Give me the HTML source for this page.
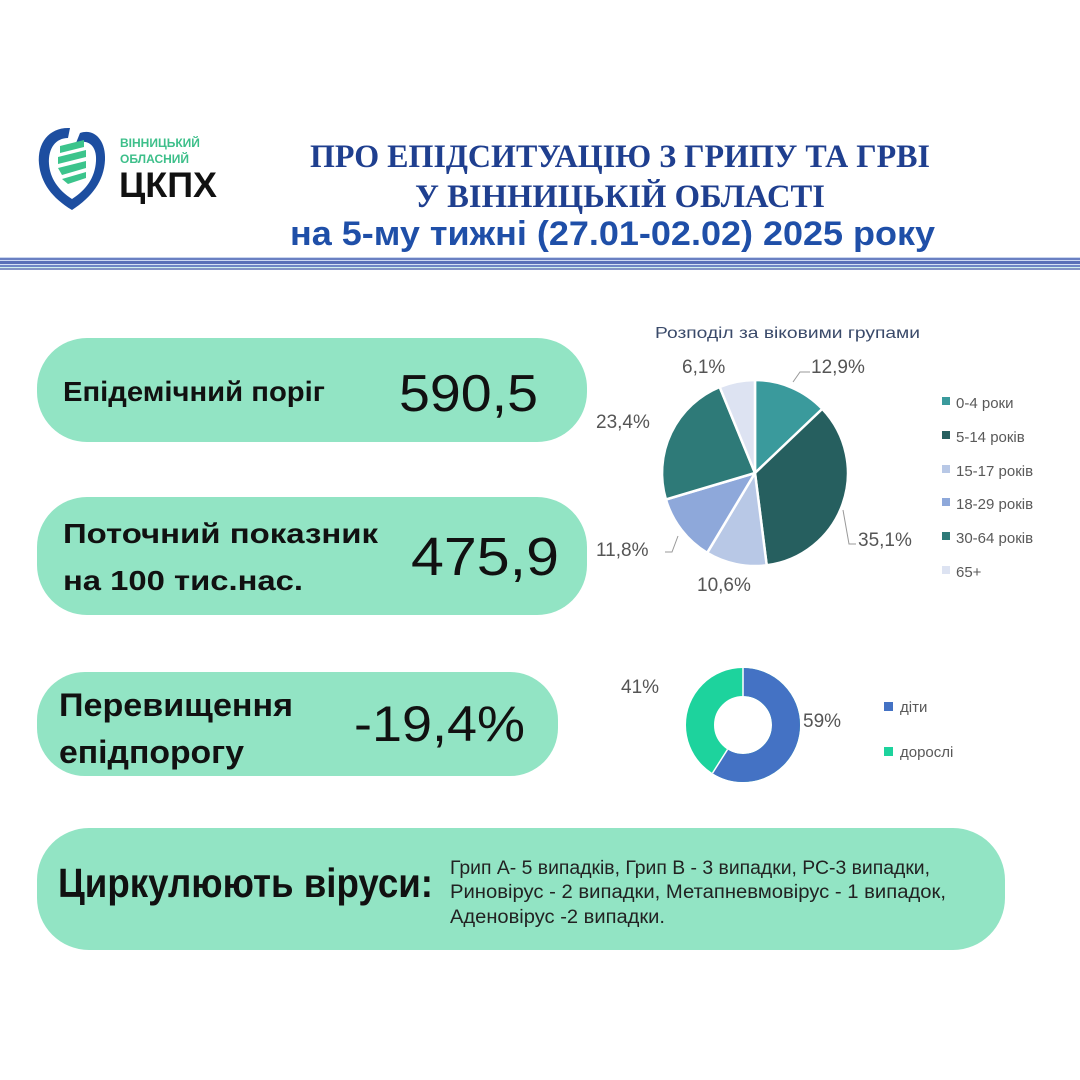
<!DOCTYPE html>
<html><head><meta charset="utf-8"><style>
html,body{margin:0;padding:0;background:#fff;}
svg{display:block}
text{font-family:"Liberation Sans","DejaVu Sans",sans-serif;}
</style></head><body>
<svg width="1080" height="1080" viewBox="0 0 1080 1080" xmlns="http://www.w3.org/2000/svg">
<rect width="1080" height="1080" fill="#fff"/>
<!-- logo -->
<path d="M70,128 C50,127 37,142 39,164 C41,183 52,198 72,210 C92,197 104,181 105,160 C106,140 94,128 80,133 L76,143 C90,138 97,148 96,161 C95,178 86,190 72,199 C58,190 50,178 49,164 C48,148 56,138 68,138 Z" fill="#1d4ea0"/>
<g fill="#3cc48c">
<path d="M60,146 L84,140 L84,147 L60,153Z"/>
<path d="M58,157 L86,150 L86,157 L58,164Z"/>
<path d="M58,168 L86,161 L86,168 L62,175Z"/>
<path d="M62,179 L86,172 L86,178 L68,184Z"/>
</g>
<text x="120" y="147" font-size="12" font-weight="bold" fill="#3dbf8a">ВІННИЦЬКИЙ</text>
<text x="120" y="163" font-size="12" font-weight="bold" fill="#3dbf8a">ОБЛАСНИЙ</text>
<text x="119" y="197" font-size="35" font-weight="bold" fill="#111" textLength="98" lengthAdjust="spacingAndGlyphs">ЦКПХ</text>
<!-- title -->
<text x="310" y="167" font-size="33" font-weight="bold" fill="#1f3f8f" textLength="620" lengthAdjust="spacingAndGlyphs" style="font-family:'Liberation Serif',serif">ПРО ЕПІДСИТУАЦІЮ З ГРИПУ ТА ГРВІ</text>
<text x="415" y="207" font-size="33" font-weight="bold" fill="#1f3f8f" textLength="410" lengthAdjust="spacingAndGlyphs" style="font-family:'Liberation Serif',serif">У ВІННИЦЬКІЙ ОБЛАСТІ</text>
<text x="290" y="245" font-size="34" font-weight="bold" fill="#1f4fa8" textLength="645" lengthAdjust="spacingAndGlyphs">на 5-му тижні (27.01-02.02) 2025 року</text>
<!-- stripes -->
<rect x="0" y="257" width="1080" height="1" fill="#c9d6ee"/>
<rect x="0" y="258" width="1080" height="2" fill="#6a80c2"/>
<rect x="0" y="260" width="1080" height="1" fill="#cfdaf2"/>
<rect x="0" y="261" width="1080" height="3" fill="#5a70b8"/>
<rect x="0" y="264" width="1080" height="1" fill="#d5e0f4"/>
<rect x="0" y="265" width="1080" height="2" fill="#6f86c6"/>
<rect x="0" y="267" width="1080" height="1" fill="#d0f0ee"/>
<rect x="0" y="268" width="1080" height="2" fill="#8494c4"/>
<!-- boxes -->
<g fill="#92e4c4">
<rect x="37" y="338" width="550" height="104" rx="50"/>
<rect x="37" y="497" width="550" height="118" rx="50"/>
<rect x="37" y="672" width="521" height="104" rx="48"/>
<rect x="37" y="828" width="968" height="122" rx="52"/>
</g>
<text x="63" y="401" font-size="28" font-weight="bold" fill="#111" textLength="262" lengthAdjust="spacingAndGlyphs">Епідемічний поріг</text>
<text x="399" y="411" font-size="52" fill="#111" textLength="139" lengthAdjust="spacingAndGlyphs">590,5</text>
<text x="63" y="543" font-size="28" font-weight="bold" fill="#111" textLength="315" lengthAdjust="spacingAndGlyphs">Поточний показник</text>
<text x="63" y="590" font-size="28" font-weight="bold" fill="#111" textLength="240" lengthAdjust="spacingAndGlyphs">на 100 тис.нас.</text>
<text x="411" y="575" font-size="54" fill="#111" textLength="148" lengthAdjust="spacingAndGlyphs">475,9</text>
<text x="59" y="716" font-size="32" font-weight="bold" fill="#111" textLength="234" lengthAdjust="spacingAndGlyphs">Перевищення</text>
<text x="59" y="763" font-size="32" font-weight="bold" fill="#111" textLength="185" lengthAdjust="spacingAndGlyphs">епідпорогу</text>
<text x="354" y="741" font-size="50" fill="#111" textLength="171" lengthAdjust="spacingAndGlyphs">-19,4%</text>
<text x="58" y="897" font-size="41" font-weight="bold" fill="#111" textLength="375" lengthAdjust="spacingAndGlyphs">Циркулюють віруси:</text>
<g font-size="19" fill="#222">
<text x="450" y="874" textLength="480" lengthAdjust="spacingAndGlyphs">Грип А- 5 випадків, Грип В - 3 випадки, РС-3 випадки,</text>
<text x="450" y="898" textLength="496" lengthAdjust="spacingAndGlyphs">Риновірус - 2 випадки, Метапневмовірус - 1 випадок,</text>
<text x="450" y="923" textLength="215" lengthAdjust="spacingAndGlyphs">Аденовірус -2 випадки.</text>
</g>
<!-- pie -->
<text x="655" y="338" font-size="16" fill="#3a4a6a" textLength="265" lengthAdjust="spacingAndGlyphs">Розподіл за віковими групами</text>
<g stroke="#fff" stroke-width="2.5" stroke-linejoin="round">
<path d="M755,473 L755,380 A93,93 0 0 1 822.3,408.9 Z" fill="#3a9a9c"/>
<path d="M755,473 L822.3,408.9 A93,93 0 0 1 766.7,565.3 Z" fill="#265f5f"/>
<path d="M755,473 L766.7,565.3 A93,93 0 0 1 707.2,552.8 Z" fill="#b8c8e6"/>
<path d="M755,473 L707.2,552.8 A93,93 0 0 1 665.9,499.5 Z" fill="#8ea8da"/>
<path d="M755,473 L665.9,499.5 A93,93 0 0 1 719.7,387 Z" fill="#2e7a78"/>
<path d="M755,473 L719.7,387 A93,93 0 0 1 755,380 Z" fill="#dde3f2"/>
</g>
<g stroke="#999" fill="none" stroke-width="1">
<polyline points="810,372 800,372 793,382"/>
<polyline points="856,544 849,544 843,510"/>
<polyline points="665,552 672,552 678,536"/>
</g>
<g font-size="19" fill="#555">
<text x="811" y="373">12,9%</text>
<text x="682" y="373">6,1%</text>
<text x="596" y="428">23,4%</text>
<text x="596" y="556">11,8%</text>
<text x="697" y="591">10,6%</text>
<text x="858" y="546">35,1%</text>
</g>
<g font-size="15" fill="#595959">
<rect x="942" y="397" width="8" height="8" fill="#3a9a9c"/><text x="956" y="408">0-4 роки</text>
<rect x="942" y="431" width="8" height="8" fill="#265f5f"/><text x="956" y="442">5-14 років</text>
<rect x="942" y="465" width="8" height="8" fill="#b8c8e6"/><text x="956" y="476">15-17 років</text>
<rect x="942" y="498" width="8" height="8" fill="#8ea8da"/><text x="956" y="509">18-29 років</text>
<rect x="942" y="532" width="8" height="8" fill="#2e7a78"/><text x="956" y="543">30-64 років</text>
<rect x="942" y="566" width="8" height="8" fill="#dde3f2"/><text x="956" y="577">65+</text>
</g>
<!-- donut -->
<circle cx="743" cy="725" r="43" fill="none" stroke="#1dd39d" stroke-width="28"/>
<circle cx="743" cy="725" r="43" fill="none" stroke="#4472c4" stroke-width="28" stroke-dasharray="159.4 300" transform="rotate(-90 743 725)"/>
<line x1="743" y1="668" x2="743" y2="696" stroke="#fff" stroke-width="1.5"/>
<line x1="712.5" y1="773.1" x2="727.5" y2="749.5" stroke="#fff" stroke-width="1.5"/>
<g font-size="19" fill="#555">
<text x="621" y="693">41%</text>
<text x="803" y="727">59%</text>
</g>
<g font-size="15" fill="#595959">
<rect x="884" y="702" width="9" height="9" fill="#4472c4"/><text x="900" y="712">діти</text>
<rect x="884" y="747" width="9" height="9" fill="#1dd39d"/><text x="900" y="757">дорослі</text>
</g>
</svg>
</body></html>
